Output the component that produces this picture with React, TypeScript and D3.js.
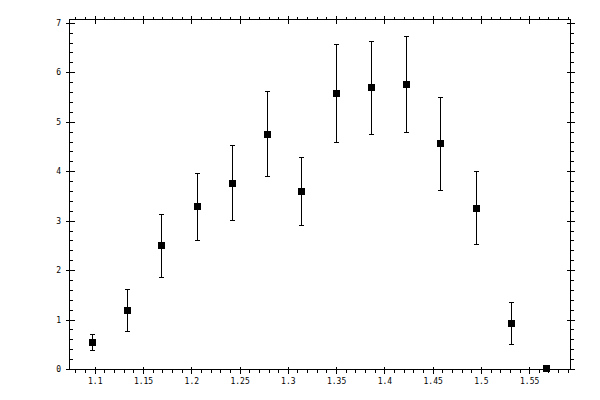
import React, { useEffect, useRef } from 'react';
import * as d3 from 'd3';

const width = 600;
const height = 400;
const frame = { left: 69.5, right: 570.5, top: 19.5, bottom: 369.5 };

const xValues = [1.097, 1.133, 1.169, 1.206, 1.242, 1.278, 1.314, 1.35, 1.386, 1.422, 1.458, 1.495, 1.531, 1.567];
const yValues = [0.55, 1.19, 2.5, 3.29, 3.77, 4.76, 3.6, 5.59, 5.7, 5.77, 4.56, 3.26, 0.93, 0.02];
const yErrors = [0.16, 0.43, 0.64, 0.68, 0.76, 0.86, 0.68, 0.99, 0.94, 0.97, 0.94, 0.74, 0.42, 0];

const xMajorTicks = [1.1, 1.15, 1.2, 1.25, 1.3, 1.35, 1.4, 1.45, 1.5, 1.55];
const xTickLabels = ['1.1', '1.15', '1.2', '1.25', '1.3', '1.35', '1.4', '1.45', '1.5', '1.55'];
const yMajorTicks = [0, 1, 2, 3, 4, 5, 6, 7];
const yTickLabels = ['0', '1', '2', '3', '4', '5', '6', '7'];

const xDomain: [number, number] = [1.0733, 1.5923];
const yDomain: [number, number] = [0, 7.077];

export default function App() {
  const ref = useRef<SVGSVGElement>(null);

  useEffect(() => {
    if (!ref.current) return;
    const svg = d3.select(ref.current);
    svg.selectAll('*').remove();

    const x = d3.scaleLinear().domain(xDomain).range([frame.left, frame.right]);
    const y = d3.scaleLinear().domain(yDomain).range([frame.bottom, frame.top]);

    const g = svg.append('g').attr('stroke', 'black').attr('shape-rendering', 'crispEdges');

    // frame
    g.append('rect')
      .attr('x', frame.left)
      .attr('y', frame.top)
      .attr('width', frame.right - frame.left)
      .attr('height', frame.bottom - frame.top)
      .attr('fill', 'none');

    const xMinor = d3.range(108, 160).map((v) => v / 100).filter((v) => x(v) > frame.left && x(v) < frame.right);
    const yMinor = d3.range(1, 36).map((v) => v / 5).filter((v) => Math.abs(v - Math.round(v)) > 1e-6);

    const line = (x1: number, y1: number, x2: number, y2: number) =>
      g.append('line').attr('x1', x1).attr('y1', y1).attr('x2', x2).attr('y2', y2);

    // x ticks, bottom and top
    xMinor.forEach((v) => {
      line(x(v), frame.bottom, x(v), frame.bottom + 3);
      line(x(v), frame.top, x(v), frame.top - 3);
    });
    xMajorTicks.forEach((v) => {
      line(x(v), frame.bottom - 3, x(v), frame.bottom + 4);
      line(x(v), frame.top - 4, x(v), frame.top + 4);
    });

    // y ticks, left and right
    yMinor.forEach((v) => {
      line(frame.left, y(v), frame.left + 3, y(v));
      line(frame.right, y(v), frame.right + 3, y(v));
    });
    yMajorTicks.forEach((v) => {
      line(frame.left - 4, y(v), frame.left + 5, y(v));
      line(frame.right - 4, y(v), frame.right + 4, y(v));
    });

    const labels = svg
      .append('g')
      .attr('font-family', 'DejaVu Sans Mono, monospace')
      .attr('font-size', 8)
      .attr('fill', 'black');

    labels
      .selectAll('text.xl')
      .data(xMajorTicks)
      .enter()
      .append('text')
      .attr('x', (d) => x(d))
      .attr('y', frame.bottom + 14.5)
      .attr('text-anchor', 'middle')
      .text((_, i) => xTickLabels[i]);

    labels
      .selectAll('text.yl')
      .data(yMajorTicks)
      .enter()
      .append('text')
      .attr('x', frame.left - 8.5)
      .attr('y', (d) => y(d) + 2.5)
      .attr('text-anchor', 'end')
      .text((_, i) => yTickLabels[i]);

    // error bars
    const bars = svg.append('g').attr('stroke', 'black').attr('shape-rendering', 'crispEdges');
    xValues.forEach((xv, i) => {
      const e = yErrors[i];
      if (e <= 0) return;
      const cx = x(xv);
      const lo = y(yValues[i] - e);
      const hi = y(yValues[i] + e);
      bars.append('line').attr('x1', cx).attr('x2', cx).attr('y1', lo).attr('y2', hi);
      bars.append('line').attr('x1', cx - 2.5).attr('x2', cx + 2.5).attr('y1', lo).attr('y2', lo);
      bars.append('line').attr('x1', cx - 2.5).attr('x2', cx + 2.5).attr('y1', hi).attr('y2', hi);
    });

    // markers
    svg
      .append('g')
      .selectAll('rect')
      .data(xValues)
      .enter()
      .append('rect')
      .attr('x', (d) => x(d) - 3.5)
      .attr('y', (_, i) => y(yValues[i]) - 3.5)
      .attr('width', 7)
      .attr('height', 7)
      .attr('fill', 'black')
      .attr('shape-rendering', 'crispEdges');
  }, []);

  return (
    <svg
      ref={ref}
      width={width}
      height={height}
      style={{ position: 'absolute', left: 0, top: 0, background: 'white' }}
    />
  );
}
